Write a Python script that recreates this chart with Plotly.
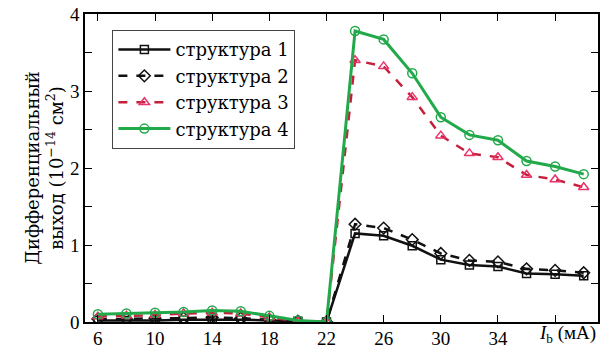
import plotly.graph_objects as go

x_vals = [6, 8, 10, 12, 14, 16, 18, 20, 22, 24, 26, 28, 30, 32, 34, 36, 38, 40]
s1 = [0.02, 0.02, 0.02, 0.03, 0.03, 0.03, 0.02, 0.01, 0.0, 1.15, 1.12, 0.99, 0.81, 0.74, 0.72, 0.63, 0.62, 0.60]
s2 = [0.04, 0.04, 0.05, 0.05, 0.06, 0.05, 0.03, 0.01, 0.0, 1.27, 1.22, 1.07, 0.89, 0.80, 0.78, 0.69, 0.67, 0.64]
s3 = [0.07, 0.08, 0.09, 0.11, 0.12, 0.11, 0.06, 0.01, 0.0, 3.40, 3.32, 2.92, 2.42, 2.19, 2.14, 1.91, 1.85, 1.75]
s4 = [0.10, 0.11, 0.12, 0.13, 0.15, 0.14, 0.08, 0.02, 0.0, 3.78, 3.67, 3.23, 2.66, 2.43, 2.36, 2.09, 2.02, 1.92]
names = ["структура 1", "структура 2", "структура 3", "структура 4"]
x_ticks = [6, 10, 14, 18, 22, 26, 30, 34, 38]
x_ticktext = ["6", "10", "14", "18", "22", "26", "30", "34", ""]
y_ticks = [0, 1, 2, 3, 4]

FONT = "Liberation Serif, DejaVu Serif, serif"
TXT = "DejaVu Serif, serif"
fig = go.Figure()
fig.add_trace(go.Scatter(x=x_vals, y=s1, name=names[0], mode="lines+markers",
                         line=dict(color="#111111", width=2.5),
                         marker=dict(symbol="square-open", size=8, color="#111111", line=dict(width=1.5))))
fig.add_trace(go.Scatter(x=x_vals, y=s2, name=names[1], mode="lines+markers",
                         line=dict(color="#111111", width=2.5, dash="dash"),
                         marker=dict(symbol="diamond-open", size=9, color="#111111", line=dict(width=1.5))))
fig.add_trace(go.Scatter(x=x_vals, y=s3, name=names[2], mode="lines+markers",
                         line=dict(color="#c4203c", width=2.5, dash="dash"),
                         marker=dict(symbol="triangle-up-open", size=9, color="#e8336b", line=dict(width=1.5))))
fig.add_trace(go.Scatter(x=x_vals, y=s4, name=names[3], mode="lines+markers",
                         line=dict(color="#22a94a", width=3),
                         marker=dict(symbol="circle-open", size=9, color="#22a94a", line=dict(width=1.5))))

axis_common = dict(showline=True, linecolor="black", linewidth=1.5, mirror="ticks",
                   ticks="inside", ticklen=7, tickwidth=1.2, tickcolor="black",
                   showgrid=False, zeroline=False, automargin=False,
                   tickfont=dict(family=FONT, size=19, color="black"))
fig.update_xaxes(range=[5.1, 41.0], tickvals=x_ticks, ticktext=x_ticktext, ticklabelstandoff=-2, **axis_common)
fig.update_yaxes(range=[0, 4], tickvals=y_ticks,
                 minor=dict(dtick=0.5, ticks="inside", ticklen=7, tickcolor="black", tickwidth=1.2),
                 title=dict(text="Дифференциальный<br>выход (10<sup>−14</sup> см<sup>2</sup>)",
                            font=dict(family=TXT, size=18, color="black"), standoff=2),
                 **axis_common)

fig.add_annotation(x=1.0, xref="paper", xanchor="right", y=0, yref="paper", yanchor="top",
                   yshift=2, text="<i>I</i><sub>b</sub> (мА)", showarrow=False,
                   font=dict(family=FONT, size=19, color="black"))

fig.update_layout(width=604, height=350, margin=dict(l=85, r=6, t=14, b=28),
                  plot_bgcolor="white", paper_bgcolor="white",
                  font=dict(family=FONT),
                  legend=dict(x=0.053, y=0.948, xanchor="left", yanchor="top",
                              bordercolor="#444444", borderwidth=1.2, bgcolor="white",
                              font=dict(family=TXT, size=18, color="black"),
                              tracegroupgap=0, itemwidth=52))
fig.write_html("out.html")
